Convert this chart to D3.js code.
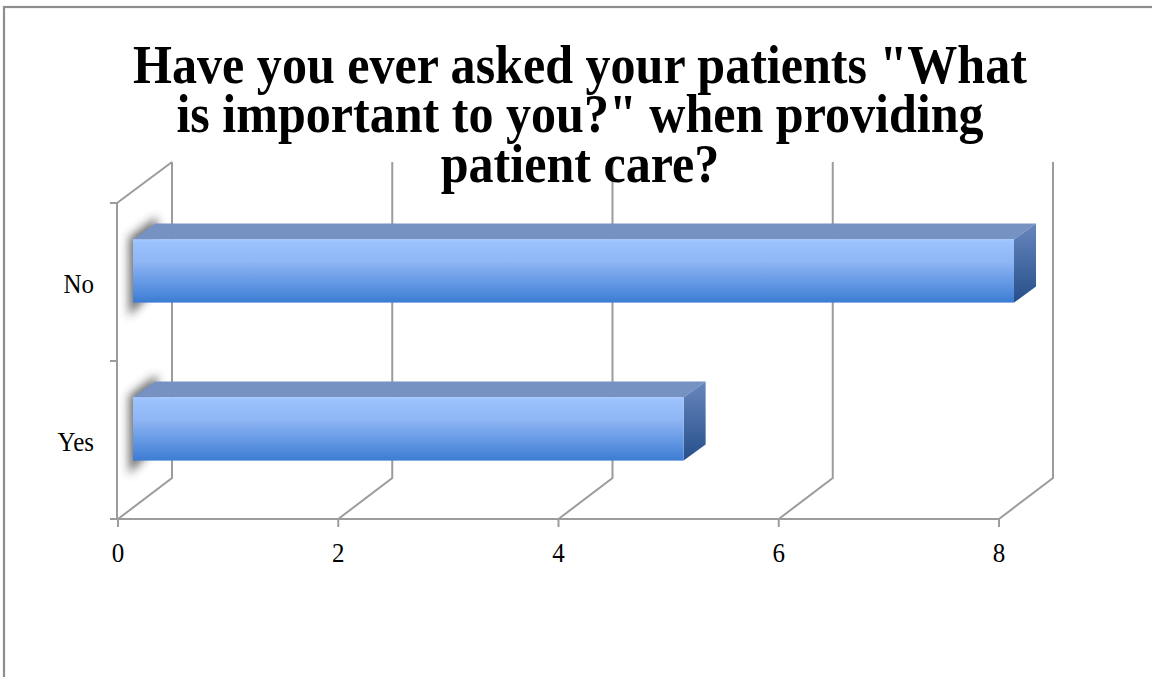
<!DOCTYPE html>
<html>
<head>
<meta charset="utf-8">
<script src="https://cdn.jsdelivr.net/npm/d3@7"></script>
<style>
  body { margin: 0; background: #fff; }
  svg { display: block; }
</style>
</head>
<body>
<svg id="chart" width="1152" height="677"></svg>
<script>
// Survey responses
const categories = ["No", "Yes"];
const values = [8, 5];
const tickValues = [0, 2, 4, 6, 8];
const titleLines = [
  'Have you ever asked your patients "What',
  'is important to you?" when providing',
  'patient care?'
];

const svg = d3.select("#chart");

// Layout of the 3D box
const DX = 54, DY = -41;          // depth of the plot box (floor/wall)
const FX = 15, FY = -11;          // bar front face offset into the box
const BX = 22, BY = -16;          // bar depth
const floorY = 519;
const gridTop = 162;
const serif = "'Liberation Serif', 'Times New Roman', serif";
const textScaleY = 1.05;

const x = d3.scaleLinear().domain([0, 8]).range([118, 999]);
const y = d3.scaleBand().domain(categories).range([203, floorY]);
const barH = y.bandwidth() * 0.4;

// Outer frame
svg.append("rect")
  .attr("x", 4).attr("y", 7).attr("width", 1170).attr("height", 700)
  .attr("fill", "#fff").attr("stroke", "#8e8e8e").attr("stroke-width", 2.2);

const defs = svg.append("defs");
const front = defs.append("linearGradient").attr("id", "barFront")
  .attr("x1", 0).attr("y1", 0).attr("x2", 0).attr("y2", 1);
front.append("stop").attr("offset", "0%").attr("stop-color", "#9ec4ff");
front.append("stop").attr("offset", "35%").attr("stop-color", "#8fb6f5");
front.append("stop").attr("offset", "100%").attr("stop-color", "#3c7cd3");
const side = defs.append("linearGradient").attr("id", "barSide")
  .attr("x1", 0).attr("y1", 0).attr("x2", 0).attr("y2", 1);
side.append("stop").attr("offset", "0%").attr("stop-color", "#6886bd");
side.append("stop").attr("offset", "100%").attr("stop-color", "#264f8a");
defs.append("filter").attr("id", "soft")
  .attr("x", "-50%").attr("y", "-50%").attr("width", "200%").attr("height", "200%")
  .append("feGaussianBlur").attr("stdDeviation", 5);

const lineColor = "#9c9c9c";
const grid = svg.append("g").attr("stroke", lineColor).attr("stroke-width", 2).attr("fill", "none");

// Floor diagonals and back-wall gridlines
tickValues.forEach(t => {
  const x0 = x(t);
  grid.append("path")
    .attr("d", `M${x0},${floorY}L${x0 + DX},${floorY + DY}L${x0 + DX},${gridTop}`);
});
// Left wall top edge
grid.append("line")
  .attr("x1", x(0) - 1).attr("y1", y.range()[0])
  .attr("x2", x(0) + DX).attr("y2", y.range()[0] + DY);

// Front axes
grid.append("line").attr("x1", x(0) - 1).attr("x2", x(0) - 1)
  .attr("y1", y.range()[0]).attr("y2", floorY);
grid.append("line").attr("x1", x(0) - 1).attr("x2", x(8))
  .attr("y1", floorY).attr("y2", floorY);

// Category ticks (band boundaries)
const catTicks = [y.range()[0], ...categories.map(c => y(c) + y.bandwidth())];
catTicks.forEach(v => {
  grid.append("line").attr("x1", x(0) - 8).attr("x2", x(0) - 1).attr("y1", v).attr("y2", v);
});
// Value ticks
tickValues.forEach(t => {
  grid.append("line").attr("x1", x(t)).attr("x2", x(t)).attr("y1", floorY).attr("y2", floorY + 8);
});

// Bars
const bars = svg.append("g");
categories.forEach((c, i) => {
  const v = values[i];
  const x0 = x(0) + FX, x1 = x(v) + FX;
  const yt = y(c) + (y.bandwidth() - barH) / 2 + FY;
  const yb = yt + barH;
  const g = bars.append("g");
  // soft shadow on the side wall
  g.append("path")
    .attr("d", `M${x0 - 4},${yt - 2}L${x0 + BX + 2},${yt + BY - 7}L${x0 + BX + 2},${yb + BY}L${x0 - 4},${yb + 14}Z`)
    .attr("fill", "#333").attr("opacity", 0.7).attr("filter", "url(#soft)");
  g.append("path")
    .attr("d", `M${x0},${yt}L${x0 + BX},${yt + BY}L${x1 + BX},${yt + BY}L${x1},${yt}Z`)
    .attr("fill", "#7592c3");
  g.append("path")
    .attr("d", `M${x1},${yt}L${x1 + BX},${yt + BY}L${x1 + BX},${yb + BY}L${x1},${yb}Z`)
    .attr("fill", "url(#barSide)");
  g.append("rect")
    .attr("x", x0).attr("y", yt).attr("width", x1 - x0).attr("height", barH)
    .attr("fill", "url(#barFront)");
  g.append("line").attr("x1", x0).attr("x2", x1).attr("y1", yt + 0.5).attr("y2", yt + 0.5)
    .attr("stroke", "#a9cbff").attr("stroke-width", 1);
});

// Axis labels
const labels = svg.append("g").style("font-family", serif).style("font-size", "25px").attr("fill", "#000");
categories.forEach(c => {
  labels.append("text")
    .attr("text-anchor", "end")
    .attr("transform", `translate(94,${y(c) + y.bandwidth() / 2 + 11}) scale(1,${textScaleY})`)
    .text(c);
});
tickValues.forEach(t => {
  labels.append("text")
    .attr("text-anchor", "middle")
    .attr("transform", `translate(${x(t)},562) scale(1,${textScaleY})`)
    .text(t);
});

// Title, sized so the first line spans the plot width
const titleBase = [83, 132, 182];
const tl = svg.append("g").selectAll("text").data(titleLines).join("text")
  .attr("text-anchor", "middle")
  .style("font-family", serif).style("font-weight", "bold").style("font-size", "50px")
  .attr("fill", "#000")
  .text(d => d);
const w0 = tl.nodes()[0].getComputedTextLength();
const fs = 50 * 894 / w0;
tl.style("font-size", fs + "px")
  .attr("transform", (d, i) => `translate(580,${titleBase[i]}) scale(1,1.08)`);
</script>
</body>
</html>
